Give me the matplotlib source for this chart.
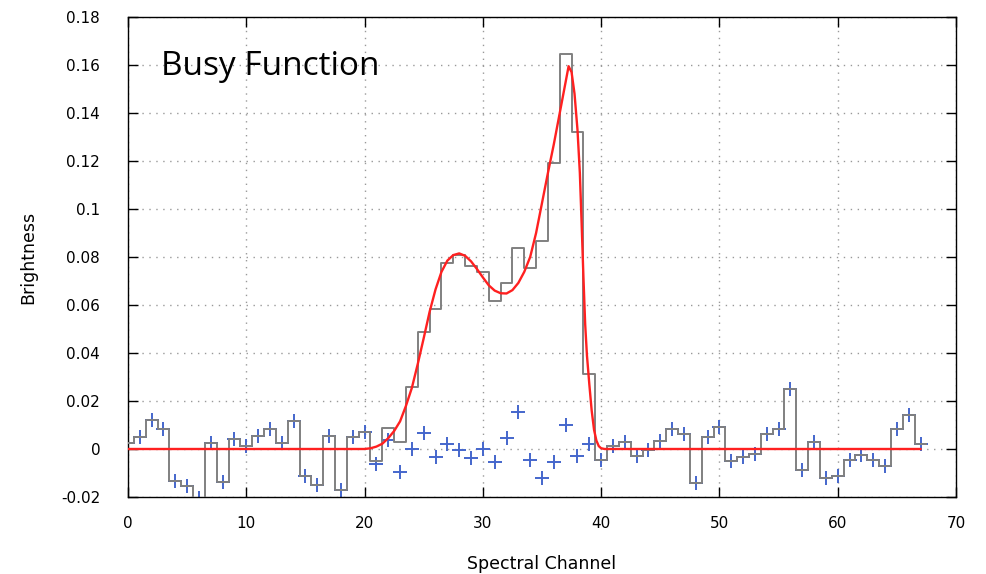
import numpy as np
import matplotlib
matplotlib.use("Agg")
from matplotlib import pyplot as plt

# measured brightness per spectral channel (channels 0..67)
channels = np.arange(68)
brightness = [
    0.0025, 0.0050, 0.0122, 0.0083, -0.0132, -0.0156, -0.0204, 0.0025,
    -0.0139, 0.0043, 0.0014, 0.0053, 0.0083, 0.0025, 0.0115, -0.0111,
    -0.0149, 0.0055, -0.0172, 0.0050, 0.0069, -0.0052, 0.0087, 0.0028,
    0.0257, 0.0486, 0.0583, 0.0775, 0.0807, 0.0761, 0.0736, 0.0615,
    0.0692, 0.0838, 0.0754, 0.0865, 0.1192, 0.1644, 0.1319, 0.0312,
    -0.0046, 0.0014, 0.0028, -0.0028, -0.0003, 0.0032, 0.0083, 0.0064,
    -0.0142, 0.0050, 0.0090, -0.0052, -0.0033, -0.0020, 0.0064, 0.0083,
    0.0250, -0.0089, 0.0028, -0.0121, -0.0111, -0.0045, -0.0024, -0.0045,
    -0.0070, 0.0083, 0.0143, 0.0021,
]

# residuals of the fit inside the line (channels 20..39); outside it the fit is zero
resid_start = 20
resid_line = [
    0.0069, -0.0063, 0.0039, -0.0096, 0.0000, 0.0066, -0.0033, 0.0021,
    -0.0006, -0.0038, 0.0000, -0.0056, 0.0046, 0.0154, -0.0045, -0.0121,
    -0.0056, 0.0098, -0.0028, 0.0021,
]

# busy function fit, sampled along the channel axis
fit_x = [0, 20.0, 20.5, 21.0, 21.5, 22.0, 22.5, 23.0, 23.5, 24.0, 24.5, 25.0,
         25.5, 26.0, 26.5, 27.0, 27.5, 28.0, 28.5, 29.0, 29.5, 30.0, 30.5,
         31.0, 31.5, 32.0, 32.5, 33.0, 33.5, 34.0, 34.5, 35.0, 35.5, 36.0,
         36.5, 37.0, 37.25, 37.5, 37.75, 38.0, 38.2, 38.35, 38.5, 38.65,
         38.8, 39.0, 39.2, 39.4, 39.6, 39.8, 40.0, 40.3, 67]
fit_y = [0, 0, 0.0003, 0.0010, 0.0022, 0.0045, 0.0075, 0.0115, 0.0180,
         0.0255, 0.0355, 0.0462, 0.0572, 0.0665, 0.0738, 0.0785, 0.0808,
         0.0815, 0.0805, 0.0782, 0.0750, 0.0715, 0.0682, 0.0660, 0.0649,
         0.0648, 0.0662, 0.0692, 0.0738, 0.0800, 0.0900, 0.1025, 0.1150,
         0.1270, 0.1400, 0.1530, 0.1595, 0.1570, 0.1480, 0.1330, 0.1150,
         0.0940, 0.0720, 0.0520, 0.0390, 0.0270, 0.0160, 0.0080, 0.0035,
         0.0012, 0.0003, 0, 0]

residuals = np.array(brightness, dtype=float)
residuals[resid_start:resid_start + len(resid_line)] = resid_line

fig = plt.figure(figsize=(9.87, 5.74), dpi=100)
ax = fig.add_axes([128 / 987, 77 / 574, 828 / 987, 480 / 574])

ax.plot(channels, residuals, ls='none', marker='+', ms=10, mew=1.4,
        color='#4466cc', zorder=2)
ax.step(channels, brightness, where='mid', color='#808080', lw=1.4, zorder=3)
ax.plot([channels[0] - 0.5, channels[0]], [brightness[0]] * 2,
        color='#808080', lw=1.4, zorder=3)
ax.plot([channels[-1], channels[-1] + 0.5], [brightness[-1]] * 2,
        color='#808080', lw=1.4, zorder=3)
ax.plot(fit_x, fit_y, color='#ff2020', lw=1.7, zorder=4)

ax.set_xlim(0, 70)
ax.set_ylim(-0.02, 0.18)
ax.set_xticks(np.arange(0, 71, 10))
yt = np.round(np.arange(-0.02, 0.181, 0.02), 2)
ax.set_yticks(yt)
ax.set_yticklabels(['%g' % v for v in yt])
ax.tick_params(axis='y', pad=20)
ax.tick_params(axis='x', pad=14)
ax.tick_params(direction='in', length=7, width=1, top=True, right=True,
               labelsize=11, colors='black')
ax.grid(True, color='#999999', linestyle=(0, (1, 4)), linewidth=1)
for s in ax.spines.values():
    s.set_linewidth(1)

ax.set_xlabel('Spectral Channel', fontsize=12.5, labelpad=17)
ax.set_ylabel('Brightness', fontsize=12.5, labelpad=17)
ax.text(0.04, 0.896, 'Busy Function', transform=ax.transAxes,
        fontsize=24, family='Open Sans', va='center', ha='left')

fig.savefig('out.png', dpi=100)
